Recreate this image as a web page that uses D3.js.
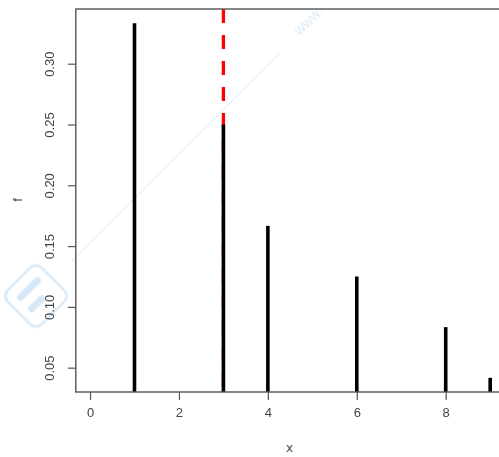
<!DOCTYPE html>
<html>
<head>
<meta charset="utf-8">
<script src="https://cdn.jsdelivr.net/npm/d3@7"></script>
<style>
  html, body { margin: 0; padding: 0; background: #fff; }
  svg { display: block; }
  text { font-family: "Liberation Sans", Arial, sans-serif; }
</style>
</head>
<body>
<svg id="chart" width="499" height="457"></svg>
<script>
// Data
const xs = [1, 3, 4, 6, 8, 9];
const fs = [1/3, 1/4, 1/6, 1/8, 1/12, 1/24];
const xTicks = [0, 2, 4, 6, 8];
const yTicks = [0.05, 0.10, 0.15, 0.20, 0.25, 0.30];
const vLine = [3];

const svg = d3.select("#chart");

const x = d3.scaleLinear().domain([-0.32, 9.32]).range([75.8, 504.4]);
const y = d3.scaleLinear().domain([0.03, 0.345]).range([392, 9]);

// watermark (faint)
const wm = svg.append("g").attr("opacity", 0.9);
wm.append("line").attr("x1", 72).attr("y1", 261).attr("x2", 280).attr("y2", 53)
  .attr("stroke", "#cfe3f5").attr("stroke-width", 1);
wm.append("text").attr("transform", "translate(300,36) rotate(-45)")
  .attr("fill", "#d6e8f7").attr("font-size", 14).text("www.");
const logo = wm.append("g").attr("transform", "translate(36,296) rotate(45)");
logo.append("rect").attr("x", -24).attr("y", -24).attr("width", 48).attr("height", 48)
  .attr("rx", 8).attr("fill", "none").attr("stroke", "#d9e9f7").attr("stroke-width", 3);
logo.append("line").attr("x1", -10).attr("y1", -12).attr("x2", -10).attr("y2", 12)
  .attr("stroke", "#d2e5f5").attr("stroke-width", 7).attr("stroke-linecap", "round");
logo.append("line").attr("x1", 6).attr("y1", -2).attr("x2", 6).attr("y2", 12)
  .attr("stroke", "#d2e5f5").attr("stroke-width", 7).attr("stroke-linecap", "round");

// red dashed vertical line
svg.selectAll(".vline").data(vLine).enter().append("line")
  .attr("x1", d => x(d)).attr("x2", d => x(d))
  .attr("y1", y.range()[1]).attr("y2", y.range()[0])
  .attr("stroke", "#f00").attr("stroke-width", 3.3)
  .attr("stroke-dasharray", "14,12");

// spikes (type="h")
svg.selectAll(".spike").data(xs).enter().append("line")
  .attr("x1", d => x(d)).attr("x2", d => x(d))
  .attr("y1", y.range()[0]).attr("y2", (d, i) => y(fs[i]))
  .attr("stroke", "#000").attr("stroke-width", 3.6);

// box
svg.append("rect").attr("x", x.range()[0]).attr("y", y.range()[1])
  .attr("width", x.range()[1] - x.range()[0]).attr("height", y.range()[0] - y.range()[1])
  .attr("fill", "none").attr("stroke", "#555").attr("stroke-width", 1.4);

// x axis
const xa = svg.append("g").attr("transform", `translate(0,${y.range()[0]})`)
  .call(d3.axisBottom(x).tickValues(xTicks).tickFormat(d3.format("d")).tickSize(8).tickPadding(8));
xa.select(".domain").remove();
xa.selectAll("line").attr("stroke", "#555").attr("stroke-width", 1.2);
xa.selectAll("text").attr("font-size", 13).attr("fill", "#444")
  .attr("font-family", "Liberation Sans, Arial, sans-serif");

// y axis
const ya = svg.append("g").attr("transform", `translate(${x.range()[0]},0)`)
  .call(d3.axisLeft(y).tickValues(yTicks).tickFormat(d3.format(".2f")).tickSize(8).tickPadding(0));
ya.select(".domain").remove();
ya.selectAll("line").attr("stroke", "#555").attr("stroke-width", 1.2);
ya.selectAll("text").attr("font-size", 13).attr("fill", "#444")
  .attr("font-family", "Liberation Sans, Arial, sans-serif")
  .attr("text-anchor", "middle").attr("x", 0).attr("dy", 0)
  .attr("transform", "translate(-22,0) rotate(-90)");

// axis titles
svg.append("text").attr("x", 289.5).attr("y", 452).attr("text-anchor", "middle")
  .attr("font-size", 13).attr("fill", "#444").text("x");
svg.append("text").attr("transform", "translate(22,200) rotate(-90)").attr("text-anchor", "middle")
  .attr("font-size", 13).attr("fill", "#444").text("f");
</script>
</body>
</html>
